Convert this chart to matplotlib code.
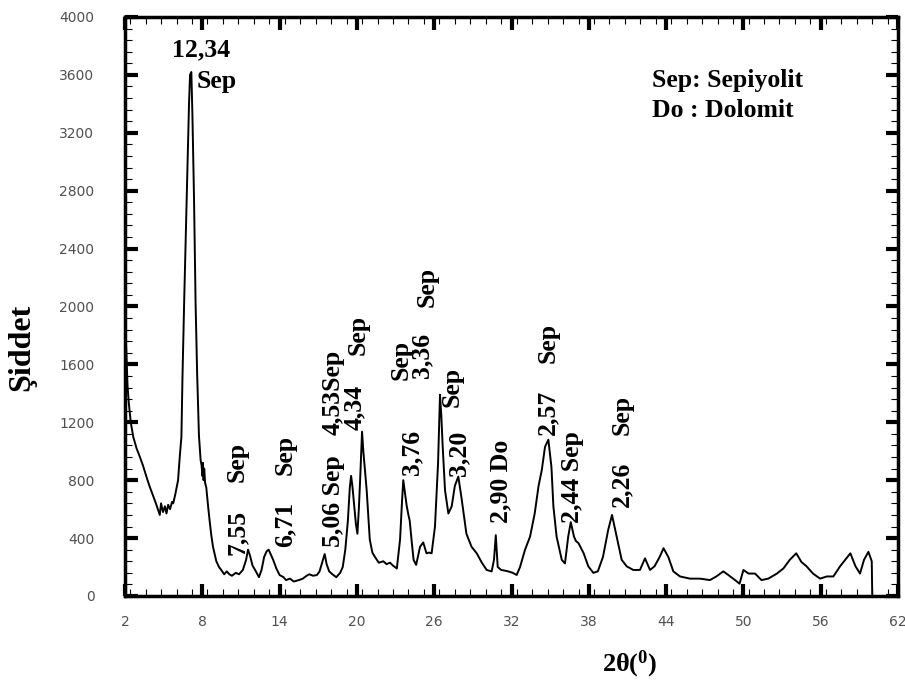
import numpy as np
import matplotlib.pyplot as plt
from matplotlib.ticker import MultipleLocator

# Diffractogramme (2 theta en degres, intensite en coups)
two_theta = [2.00, 2.10, 2.20, 2.30, 2.45, 2.64, 2.90, 3.16, 3.40, 3.68, 3.90, 4.19, 4.40, 4.55,
             4.70, 4.80, 4.95, 5.10, 5.22, 5.35, 5.50, 5.65, 5.74, 5.90, 6.12, 6.25, 6.38, 6.46,
             6.59, 6.72, 6.85, 6.97, 7.05, 7.15, 7.23, 7.36, 7.48, 7.60, 7.74, 7.87, 7.95, 8.00,
             8.05, 8.10, 8.15, 8.22, 8.31, 8.45, 8.57, 8.70, 8.83, 9.09, 9.30, 9.47, 9.70, 9.90,
             10.10, 10.30, 10.60, 10.85, 11.15, 11.40, 11.55, 11.70, 11.90, 12.10, 12.40, 12.60,
             12.80, 13.00, 13.15, 13.30, 13.50, 13.75, 14.00, 14.30, 14.50, 14.80, 15.10, 15.50,
             15.80, 16.10, 16.30, 16.60, 16.90, 17.10, 17.30, 17.50, 17.65, 17.85, 18.10, 18.40,
             18.70, 18.90, 19.10, 19.30, 19.45, 19.55, 19.65, 19.80, 19.92, 20.04, 20.15, 20.25,
             20.40, 20.50, 20.76, 21.00, 21.20, 21.40, 21.70, 22.05, 22.30, 22.57, 22.80, 23.10,
             23.35, 23.50, 23.60, 23.75, 23.87, 24.00, 24.10, 24.25, 24.40, 24.60, 24.90, 25.15,
             25.40, 25.60, 25.80, 26.06, 26.30, 26.45, 26.55, 26.66, 26.84, 27.10, 27.36, 27.60,
             27.87, 28.10, 28.30, 28.50, 28.90, 29.30, 29.70, 30.07, 30.46, 30.64, 30.78, 30.93,
             31.20, 31.50, 31.75, 32.10, 32.40, 32.66, 33.05, 33.44, 33.80, 34.10, 34.35, 34.60,
             34.86, 35.10, 35.25, 35.50, 35.90, 36.15, 36.40, 36.60, 36.85, 37.00, 37.20, 37.40,
             37.60, 37.96, 38.35, 38.70, 39.10, 39.50, 39.80, 40.16, 40.55, 40.94, 41.45, 41.97,
             42.36, 42.75, 43.10, 43.50, 43.80, 44.17, 44.56, 45.08, 45.85, 46.63, 47.40, 47.90,
             48.44, 48.83, 49.35, 49.70, 50.00, 50.40, 50.90, 51.40, 51.93, 52.60, 53.10, 53.60,
             54.10, 54.50, 54.90, 55.40, 55.95, 56.47, 56.98, 57.50, 57.90, 58.30, 58.70, 59.05,
             59.36, 59.70, 59.96, 60.00]
intensity = [1900, 1700, 1450, 1330, 1200, 1100, 1020, 960, 900, 820, 760, 690, 640, 600,
             560, 640, 580, 620, 570, 630, 600, 650, 640, 700, 800, 960, 1100, 1500,
             2020, 2500, 2980, 3400, 3600, 3620, 3340, 2740, 2020, 1540, 1110, 940, 900, 830,
             920, 800, 880, 780, 750, 620, 520, 420, 340, 240, 200, 180, 150, 170,
             150, 140, 160, 150, 180, 250, 320, 280, 210, 180, 130, 180,
             270, 310, 320, 290, 250, 190, 145, 130, 110, 120, 100, 110,
             120, 140, 150, 140, 145, 170, 230, 290, 220, 170, 150, 130,
             160, 200, 320, 520, 750, 830, 760, 620, 500, 430, 600, 800,
             1135, 1000, 730, 390, 300, 270, 230, 240, 220, 230, 210, 190,
             390, 650, 800, 700, 620, 560, 520, 380, 250, 215, 340, 370,
             295, 300, 295, 480, 920, 1390, 1250, 1030, 730, 570, 620, 760,
             825, 690, 560, 430, 340, 295, 230, 180, 170, 250, 420, 200,
             180, 175, 170, 160, 145, 200, 320, 410, 570, 760, 870, 1030,
             1080, 890, 620, 410, 250, 225, 410, 510, 410, 380, 365, 330,
             295, 205, 160, 170, 270, 455, 560, 410, 250, 205, 180, 180,
             260, 180, 205, 270, 330, 270, 170, 135, 120, 120, 110, 135,
             170, 145, 110, 85, 180, 155, 155, 110, 120, 155, 190, 250,
             295, 235, 205, 155, 120, 135, 135, 205, 250, 295, 205, 155,
             250, 305, 240, 0]

x_ticks = [2, 8, 14, 20, 26, 32, 38, 44, 50, 56, 62]
y_ticks = [0, 400, 800, 1200, 1600, 2000, 2400, 2800, 3200, 3600, 4000]

# Etiquettes des pics (texte vertical) : texte, 2theta, intensite du bas du texte
peak_labels = [
    ("7,55", 10.69, 283), ("Sep", 10.69, 788),
    ("6,71", 14.42, 339), ("Sep", 14.42, 836),
    ("5,06 Sep", 18.15, 339),
    ("4,53Sep", 18.15, 1112),
    ("4,34", 19.78, 1147), ("Sep", 20.09, 1665),
    ("3,76", 24.28, 836), ("Sep", 23.42, 1492),
    ("3,36", 25.05, 1506), ("Sep", 25.44, 1997),
    ("3,20", 27.93, 829), ("Sep", 27.38, 1306),
    ("2,90 Do", 31.19, 504),
    ("2,57", 34.83, 1112), ("Sep", 34.83, 1610),
    ("2,44 Sep", 36.77, 504),
    ("2,26", 40.58, 615), ("Sep", 40.58, 1112),
]

# police serif grasse pour les annotations (exposant inclus)
plt.rcParams['mathtext.fontset'] = 'custom'
plt.rcParams['mathtext.rm'] = 'Liberation Serif:bold'
plt.rcParams['mathtext.it'] = 'Liberation Serif:bold'
plt.rcParams['mathtext.bf'] = 'Liberation Serif:bold'
serif = ['Liberation Serif', 'DejaVu Serif']

fig = plt.figure(figsize=(9.05, 6.82), dpi=100)
ax = fig.add_axes([0.1381, 0.1261, 0.8542, 0.8490])
ax.plot(two_theta, intensity, color='black', lw=1.4)

ax.set_xlim(2, 62)
ax.set_ylim(0, 4000)
ax.set_xticks(x_ticks)
ax.set_yticks(y_ticks)
ax.xaxis.set_minor_locator(MultipleLocator(1.2))
ax.yaxis.set_minor_locator(MultipleLocator(80))
ax.tick_params(which='both', direction='in', top=True, right=True)
ax.tick_params(which='major', length=9, width=3)
ax.tick_params(which='minor', length=5, width=0.8)
ax.tick_params(which='major', labelsize=10, labelcolor='#505050')
ax.tick_params(axis='y', pad=22)
ax.tick_params(axis='x', pad=14)
for s in ax.spines.values():
    s.set_linewidth(2.5)

# pic principal
ax.text(7.90, 3772, "12,34", ha='center', va='center', fontsize=18.5,
        fontweight='bold', family=serif)
ax.text(7.59, 3551, "Sep", ha='left', va='center', fontsize=18.5,
        fontweight='bold', family=serif)

for txt, xx, yy in peak_labels:
    ax.text(xx, yy, txt, rotation=90, ha='center', va='bottom', fontsize=18.5,
            fontweight='bold', family=serif)

# legende
ax.text(42.91, 3558, "Sep: Sepiyolit", ha='left', va='center', fontsize=18.5,
        fontweight='bold', family=serif)
ax.text(42.91, 3357, "Do : Dolomit", ha='left', va='center', fontsize=18.5,
        fontweight='bold', family=serif)

# titres des axes
fig.text(0.0243, 0.491, "Şiddet", rotation=90, ha='center', va='center',
         fontsize=23, fontweight='bold', family=serif)
fig.text(0.696, 0.0264, r"2θ($^{0}$)", ha='center', va='center',
         fontsize=19, fontweight='bold', family=serif)

fig.savefig('out.png', dpi=100)
